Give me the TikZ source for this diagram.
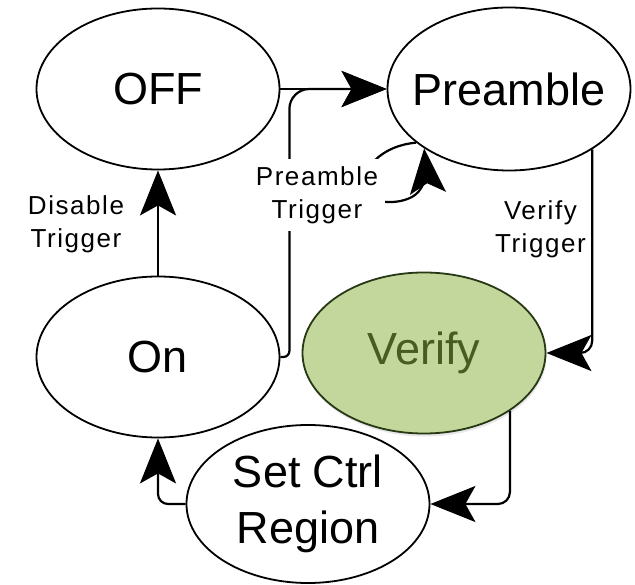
\documentclass[tikz,border=0pt]{standalone}
\usepackage{fontspec}
\setmainfont{Liberation Sans}
\newfontfamily\lblfont{Liberation Sans}[LetterSpace=6]
\usetikzlibrary{arrows.meta,shapes.geometric,shadows}
\definecolor{verfill}{RGB}{195,214,155}
\definecolor{vertext}{RGB}{70,92,34}
\definecolor{verline}{RGB}{38,56,20}

\begin{document}
\begin{tikzpicture}[x=1pt,y=-1pt,
    state/.style={draw,ellipse,line width=1.8pt,minimum width=243pt,minimum height=161pt,inner sep=0pt,font=\fontsize{45}{56}\selectfont,align=center},
    active/.style={state,fill=verfill,draw=verline,text=vertext,drop shadow={opacity=0.18,shadow xshift=1pt,shadow yshift=-3pt}},
    trans/.style={line width=2.2pt,-{Stealth[length=45pt,width=36pt,inset=10pt]}},
    trig/.style={font=\lblfont\fontsize{26}{33}\selectfont,align=center,inner sep=2pt}]
    \useasboundingbox (0,0) rectangle (635,585);
    % states
    \node[state] (off) at (158,89) {OFF};
    \node[state,minimum height=163pt] (pre) at (509,89) {\makebox[150pt]{Preamble}};
    \node[state] (on) at (158,357) {On};
    \node[active] (ver) at (424,353) {Verify};
    \node[state,minimum height=158pt] (set) at (308,504) {Set Ctrl\\Region};
    % transitions
    \draw[trans] (on) -- (off);
    \draw[trans] (off.east) -- (pre.west);
    \draw[trans,rounded corners=6pt] (on.east) -- ++(9,0) [rounded corners=20pt] |- (pre.west);
    \draw[trans] (pre.210) .. controls (380,146) and (360,170) .. (365,190) .. controls (368,204) and (400,206) .. (415,195) .. controls (425,188) and (426,170) .. (pre.215);
    \draw[trans,rounded corners=12pt] (pre.324) |- (ver.east);
    \draw[trans,rounded corners=12pt] (ver.326) |- (set.east);
    \draw[trans,rounded corners=10pt] (set.west) -| (on.south);
    % labels
    \node[trig] (dis) at (76,224) {Disable\\Trigger};
    \node[trig,fill=white,inner sep=7pt] (ptrig) at (317,195) {Preamble\\Trigger};
    \node[trig,anchor=east] (vtrig) at (588,229) {Verify\\Trigger};
\end{tikzpicture}
\end{document}
